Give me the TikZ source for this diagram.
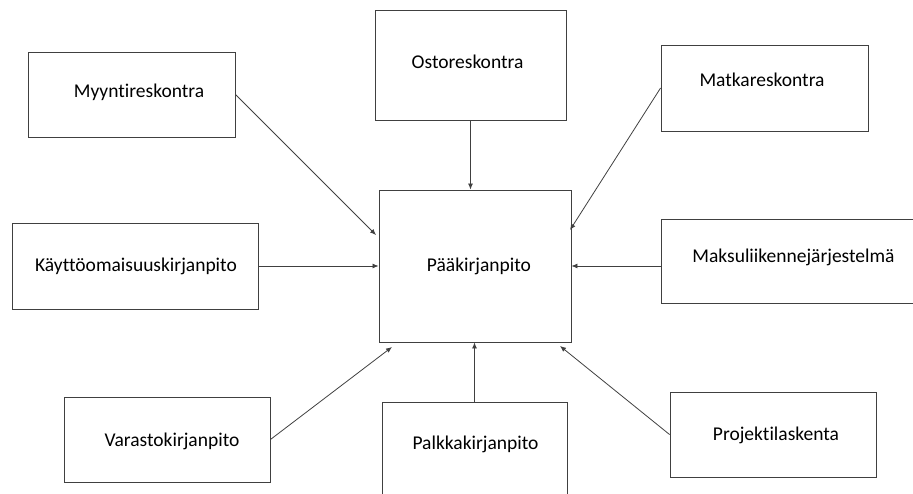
\documentclass[tikz,border=0pt]{standalone}
\usepackage{fontspec}
\setmainfont{Carlito}[Ligatures={NoCommon}]
\usetikzlibrary{arrows.meta}
\begin{document}
\begin{tikzpicture}[x=1pt,y=-1pt,
  box/.style={draw=black!75, line width=0.9pt, inner sep=0pt},
  lbl/.style={font=\fontsize{19.5}{23}\selectfont, inner sep=0pt},
  feed/.style={draw=black!75, line width=0.8pt, -{Latex[length=6pt,width=5pt]}}]
\useasboundingbox (0,0) rectangle (913,493);
\clip (0,0) rectangle (913,493);
% boxes
\node[box, minimum width=207pt, minimum height=85pt] (myynti) at (131.5,94.5) {};
\node[box, minimum width=191pt, minimum height=110pt] (osto) at (470.5,65) {};
\node[box, minimum width=207pt, minimum height=86pt] (matka) at (764.5,88) {};
\node[box, minimum width=192pt, minimum height=152pt] (paa) at (475,266) {};
\node[box, minimum width=246pt, minimum height=86pt] (kaytto) at (135,266) {};
\node[box, minimum width=254pt, minimum height=84pt] (maksu) at (788,261) {};
\node[box, minimum width=206pt, minimum height=85pt] (varasto) at (167,439.5) {};
\node[box, minimum width=185pt, minimum height=110pt] (palkka) at (474.5,457) {};
\node[box, minimum width=206pt, minimum height=85pt] (projekti) at (773,434.5) {};
% texts
\node[lbl] (myyntiText) at (139,92) {Myyntireskontra};
\node[lbl] (ostoText) at (467.5,62) {Ostoreskontra};
\node[lbl] (matkaText) at (762,80) {Matkareskontra};
\node[lbl] (paaText) at (479,266) {Pääkirjanpito};
\node[lbl] (kayttoText) at (136,266) {Käyttöomaisuuskirjanpito};
\node[lbl] (maksuText) at (793.5,257) {Maksuliikennejärjestelmä};
\node[lbl] (varastoText) at (172,441) {Varastokirjanpito};
\node[lbl] (palkkaText) at (475.5,444) {Palkkakirjanpito};
\node[lbl] (projektiText) at (776,435) {Projektilaskenta};
% arrow ends
\coordinate (myyntiIn) at (376,235);
\coordinate (matkaIn) at (570,230);
\coordinate (varastoIn) at (392,347);
\coordinate (projektiIn) at (560,346);
% arrows
\draw[feed] (myynti.east) -- (myyntiIn);
\draw[feed] (osto.south) -- (osto.south |- paa.north);
\draw[feed] (matka.west) -- (matkaIn);
\draw[feed] (kaytto.east) -- (paa.west);
\draw[feed] (maksu.west |- paa.east) -- (paa.east);
\draw[feed] (varasto.east) -- (varastoIn);
\draw[feed] (palkka.north) -- (palkka.north |- paa.south);
\draw[feed] (projekti.west) -- (projektiIn);
\end{tikzpicture}
\end{document}
